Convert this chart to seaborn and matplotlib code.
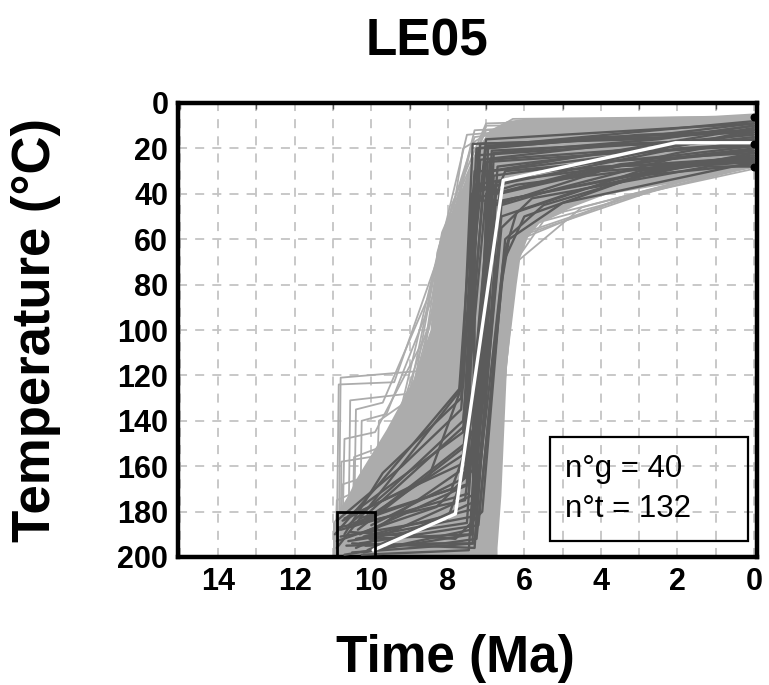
import matplotlib
matplotlib.use("Agg")
import matplotlib.pyplot as plt
import numpy as np
import pandas as pd
import seaborn as sns
from matplotlib.patches import Rectangle
from matplotlib.ticker import MultipleLocator

# ---------------- data ----------------
title = "LE05"
x_tick_values = [14, 12, 10, 8, 6, 4, 2, 0]
y_tick_values = [0, 20, 40, 60, 80, 100, 120, 140, 160, 180, 200]
stats_lines = ["n°g = 40", "n°t = 132"]

# constraint box (time range Ma, temperature range °C)
constraint_time = [10.9, 9.9]
constraint_temp = [180, 200]

# present-day end-point markers
end_time = [0, 0, 0]
end_temp = [6, 18, 28]

# envelope of the acceptable (light grey) paths, (time, temperature)
envelope_time = [11.0, 11.0, 10.8, 10.4, 9.6, 8.9, 8.45, 8.3, 8.15, 7.95, 7.55,
                 7.25, 6.9, 6.45, 6.0, 3.0, 1.0, 0.0,
                 0.0, 2.0, 3.9, 4.7, 5.6, 5.9, 6.1, 6.2, 6.45, 6.6, 6.7, 6.7]
envelope_temp = [200, 185, 180, 166, 144, 122, 100, 66, 57, 50, 35,
                 21, 12, 8, 7, 7, 6.5, 5,
                 28.5, 35, 40.5, 45.6, 53, 59, 68, 80, 115, 173, 196, 200]

# acceptable paths (light grey), each a list of (time Ma, temperature °C)
acceptable_paths = [
    [(10.85, 198), (10.8, 121), (8.7, 118), (8.3, 80), (7.3, 12), (3, 8), (0, 6)],
    [(10.9, 192), (10.85, 124), (9.4, 123), (8.4, 75), (7.0, 10), (2, 9), (0, 7)],
    [(10.6, 196), (10.55, 131), (9.0, 128), (8.3, 70), (6.9, 15), (1, 12), (0, 10)],
    [(10.75, 188), (10.7, 148), (9.9, 145), (8.5, 100), (7.4, 20), (4, 14), (0, 12)],
    [(10.5, 199), (10.45, 156), (9.5, 150), (8.45, 95), (7.1, 25), (3, 20), (0, 18)],
    [(10.8, 186), (10.75, 168), (10.2, 165), (8.9, 125), (7.6, 40), (6.5, 30), (0, 22)],
    [(10.3, 197), (10.25, 140), (9.6, 137), (8.5, 90), (7.2, 30), (2, 25), (0, 25)],
    [(10.65, 193), (9.9, 186), (9.8, 140), (9.2, 133), (8.2, 62), (7.0, 20), (0, 15)],
    [(10.9, 182), (10.1, 160), (8.8, 130), (8.2, 62), (7.3, 15), (5, 10), (0, 8)],
    [(10.2, 199), (8.0, 197), (6.9, 196), (6.6, 90), (6.1, 60), (3.5, 42), (0, 28)],
    [(10.5, 190), (7.2, 193), (6.7, 180), (6.45, 75), (5.5, 52), (2, 36), (0, 27)],
    [(10.0, 195), (7.0, 199), (6.5, 120), (6.2, 70), (4.5, 46), (0, 26)],
    [(10.4, 184), (8.6, 165), (7.4, 160), (6.6, 60), (5.0, 48), (1.5, 33), (0, 25)],
    [(10.7, 192), (9.5, 175), (8.2, 140), (7.0, 30), (6.0, 8), (1, 6), (0, 5)],
    [(10.1, 188), (8.8, 160), (8.45, 110), (7.6, 20), (6.3, 7), (0, 6)],
    [(10.9, 197), (9.0, 150), (8.4, 100), (7.9, 45), (7.0, 9), (3, 7), (0, 7)],
    [(10.35, 181), (8.0, 170), (6.8, 150), (6.3, 55), (4, 40), (0, 28)],
    [(10.6, 199), (6.8, 197), (6.6, 140), (6.2, 64), (5.8, 56), (3, 40), (0, 29)],
    [(10.8, 195), (10.78, 158), (9.3, 154), (8.2, 120), (7.2, 22), (3.5, 12), (0, 11)],
    [(10.45, 187), (10.4, 135), (9.7, 132), (8.5, 85), (7.5, 14), (4, 9), (0, 8)],
    [(10.95, 199), (10.9, 175), (10.5, 172), (9.0, 135), (8.15, 57), (7.0, 12), (0, 9)],
    [(10.25, 192), (9.2, 175), (7.9, 150), (7.1, 40), (6.0, 26), (2.5, 22), (0, 20)],
    [(10.55, 183), (7.7, 178), (6.75, 100), (6.3, 50), (4.8, 44), (0, 24)],
    [(10.0, 198), (7.5, 199), (6.9, 170), (6.6, 80), (6.0, 58), (2, 35), (0, 27)],
]

# good paths (dark grey)
good_paths = [
    [(10.9, 196), (7.6, 125), (7.25, 20), (2.5, 14), (0, 9)],
    [(10.7, 190), (9.7, 163), (7.65, 130), (7.35, 18), (3.0, 16), (0, 12)],
    [(10.5, 198), (7.3, 194), (6.6, 45), (5.2, 38), (2.0, 24), (0, 20)],
    [(10.2, 185), (7.55, 150), (7.15, 25), (3.5, 18), (0, 16)],
    [(10.8, 188), (7.45, 172), (7.35, 43), (6.6, 43), (1.5, 26), (0, 25)],
    [(10.3, 194), (7.2, 186), (6.5, 60), (5.5, 45), (2.5, 30), (0, 22)],
    [(10.6, 182), (7.6, 145), (7.2, 20), (4.0, 15), (0, 13)],
    [(10.1, 197), (7.35, 176), (6.75, 35), (1.0, 22), (0, 21)],
    [(10.9, 184), (9.2, 160), (7.65, 135), (7.15, 18), (2.2, 15), (0, 10)],
    [(10.4, 192), (7.3, 182), (6.55, 70), (6.0, 50), (3.0, 32), (0, 27)],
    [(10.0, 189), (7.5, 160), (7.25, 38), (6.7, 36), (2.0, 20), (0, 18)],
    [(10.7, 199), (7.35, 190), (6.7, 28), (2.8, 20), (0, 15)],
    [(10.3, 183), (7.5, 168), (7.38, 40), (5.5, 30), (0, 24)],
    [(10.5, 187), (7.6, 155), (7.0, 19), (3.2, 13), (0, 8)],
    [(10.9, 193), (8.3, 178), (7.25, 160), (6.6, 50), (4.5, 38), (1.8, 28), (0, 26)],
    [(10.2, 198), (7.4, 188), (6.85, 21), (4.5, 19), (0, 17)],
    [(10.6, 186), (9.5, 170), (7.6, 140), (7.0, 26), (2.6, 21), (0, 19)],
    [(10.1, 181), (7.55, 142), (7.0, 40), (6.2, 36), (0, 23)],
    [(10.8, 191), (8.0, 183), (7.3, 150), (7.3, 36), (6.6, 34), (3.5, 24), (0, 12)],
    [(10.4, 196), (7.25, 172), (6.6, 55), (5.8, 42), (1.2, 28), (0, 28)],
    [(10.0, 186), (7.55, 165), (7.2, 23), (2.0, 17), (0, 14)],
    [(10.65, 195), (8.1, 194), (7.25, 192), (6.5, 65), (6.2, 48), (3.0, 30), (0, 24)],
    [(10.35, 188), (7.45, 150), (6.9, 45), (6.3, 42), (2.5, 30), (0, 24)],
    [(10.75, 184), (8.5, 165), (7.7, 128), (7.0, 16), (3.0, 12), (0, 9)],
    [(10.2, 191), (7.35, 179), (6.8, 32), (4.2, 26), (0, 22)],
    [(10.5, 194), (7.3, 196), (6.65, 40), (2.0, 22), (0, 16)],
    [(10.95, 190), (9.8, 168), (7.7, 126), (7.3, 30), (6.9, 30), (2.5, 18), (0, 11)],
    [(10.15, 195), (8.0, 194), (7.35, 194), (7.3, 42), (6.8, 40), (4, 28), (0, 26)],
    [(10.55, 189), (7.8, 192), (7.1, 180), (6.6, 80), (6.4, 60), (5.0, 44), (0, 26)],
    [(10.45, 185), (7.9, 170), (7.05, 130), (6.75, 40), (3.5, 27), (0, 21)],
    [(10.25, 199), (7.45, 197), (6.95, 60), (6.85, 30), (3.0, 22), (0, 18)],
    [(10.6, 193), (7.5, 185), (7.05, 70), (6.9, 25), (2.0, 19), (0, 13)],
    [(10.85, 187), (7.55, 175), (6.95, 90), (6.75, 45), (4.0, 30), (0, 25)],
    [(10.05, 192), (7.4, 190), (7.0, 110), (6.8, 22), (2.5, 16), (0, 10)],
    [(10.7, 183), (7.5, 158), (6.95, 50), (6.5, 30), (2.0, 23), (0, 19)],
    [(10.3, 190), (7.45, 168), (7.1, 100), (6.95, 20), (3.0, 14), (0, 12)],
]

# best-fit path (white)
best_time = [9.95, 7.8, 6.55, 2.05, 0.0]
best_temp = [197, 181, 34, 17.5, 17.5]

# ---------------- styling ----------------
LIGHT = "#acacac"
DARK = "#5b5b5b"


def paths_frame(paths, name):
    rows = []
    for i, p in enumerate(paths):
        for j, (t, T) in enumerate(p):
            rows.append({"path": f"{name}{i}", "step": j, "time": t, "temp": T})
    return pd.DataFrame(rows)


acc_df = paths_frame(acceptable_paths, "a")
good_df = paths_frame(good_paths, "g")
best_df = pd.DataFrame({"time": best_time, "temp": best_temp, "path": "best"})

sns.set_theme(style="white")
plt.rcParams['font.family'] = ['Liberation Sans', 'DejaVu Sans']
plt.rcParams['text.color'] = 'black'
plt.rcParams['xtick.color'] = 'black'
plt.rcParams['ytick.color'] = 'black'
plt.rcParams['xtick.labelcolor'] = 'black'
plt.rcParams['ytick.labelcolor'] = 'black'

fig = plt.figure(figsize=(7.69, 6.85), dpi=100)
ax = fig.add_axes([178 / 769, 1 - 557 / 685, 579 / 769, 454 / 685])

# envelope of acceptable paths
ax.fill(envelope_time, envelope_temp, color=LIGHT, lw=0, zorder=1)

sns.lineplot(data=acc_df, x="time", y="temp", units="path", estimator=None,
             sort=False, color=LIGHT, lw=1.3, ax=ax, legend=False, zorder=2)
sns.lineplot(data=good_df, x="time", y="temp", units="path", estimator=None,
             sort=False, color=DARK, lw=1.7, ax=ax, legend=False, zorder=3)
sns.lineplot(data=best_df, x="time", y="temp", units="path", estimator=None,
             sort=False, color="white", lw=2.4, ax=ax, legend=False, zorder=4)

# constraint box
ax.add_patch(Rectangle((constraint_time[1], constraint_temp[0]),
                       constraint_time[0] - constraint_time[1],
                       constraint_temp[1] - constraint_temp[0],
                       fill=False, ec="black", lw=2.0, zorder=5))

# end markers
ax.scatter(end_time, end_temp, s=22, color="black", zorder=6, clip_on=False)

ax.set_xlim(15.05, -0.08)
ax.set_ylim(200, 0)

ax.xaxis.set_minor_locator(MultipleLocator(1))
ax.set_xticks(x_tick_values)
ax.set_yticks(y_tick_values)
ax.set_xticklabels([str(v) for v in x_tick_values])
ax.set_yticklabels([str(v) for v in y_tick_values])

ax.grid(True, which="both", axis="x", color="#c4c4c4", lw=1.3,
        linestyle=(0, (5, 4.5)), zorder=0)
ax.grid(True, which="major", axis="y", color="#c4c4c4", lw=1.3,
        linestyle=(0, (5, 4.5)), zorder=0)
ax.set_axisbelow(True)

ax.tick_params(axis="both", which="major", length=0, labelsize=22, pad=7,
               labelcolor="black")
ax.tick_params(axis="x", which="minor", top=True, bottom=False,
               direction="in", length=4, width=1, color="#555555")
for lab in ax.get_xticklabels() + ax.get_yticklabels():
    lab.set_fontweight("bold")

for sp in ax.spines.values():
    sp.set_visible(True)
    sp.set_color("black")
    sp.set_linewidth(3.2)

ax.set_xlabel("")
ax.set_ylabel("")

# stats box
ax.add_patch(Rectangle((0.6425, 0.035), 0.3415, 0.229, transform=ax.transAxes,
                       fill=False, ec="black", lw=1.6, zorder=7))
ax.text(0.668, 0.176, stats_lines[0], transform=ax.transAxes, fontsize=22.5,
        va="baseline", ha="left", zorder=8, color="black")
ax.text(0.668, 0.088, stats_lines[1], transform=ax.transAxes, fontsize=22.5,
        va="baseline", ha="left", zorder=8, color="black")

# titles
fig.text(427 / 769, 1 - 55 / 685, title, fontsize=37, fontweight="bold",
         ha="center", va="baseline", color="black")
fig.text(455 / 769, 1 - 672 / 685, "Time (Ma)", fontsize=37, fontweight="bold",
         ha="center", va="baseline", color="black")
fig.text(50 / 769, 1 - 330 / 685, "Temperature (°C)", fontsize=38,
         fontweight="bold", ha="center", va="baseline", rotation=90,
         rotation_mode="anchor", color="black")

fig.savefig("out.png", dpi=100)
